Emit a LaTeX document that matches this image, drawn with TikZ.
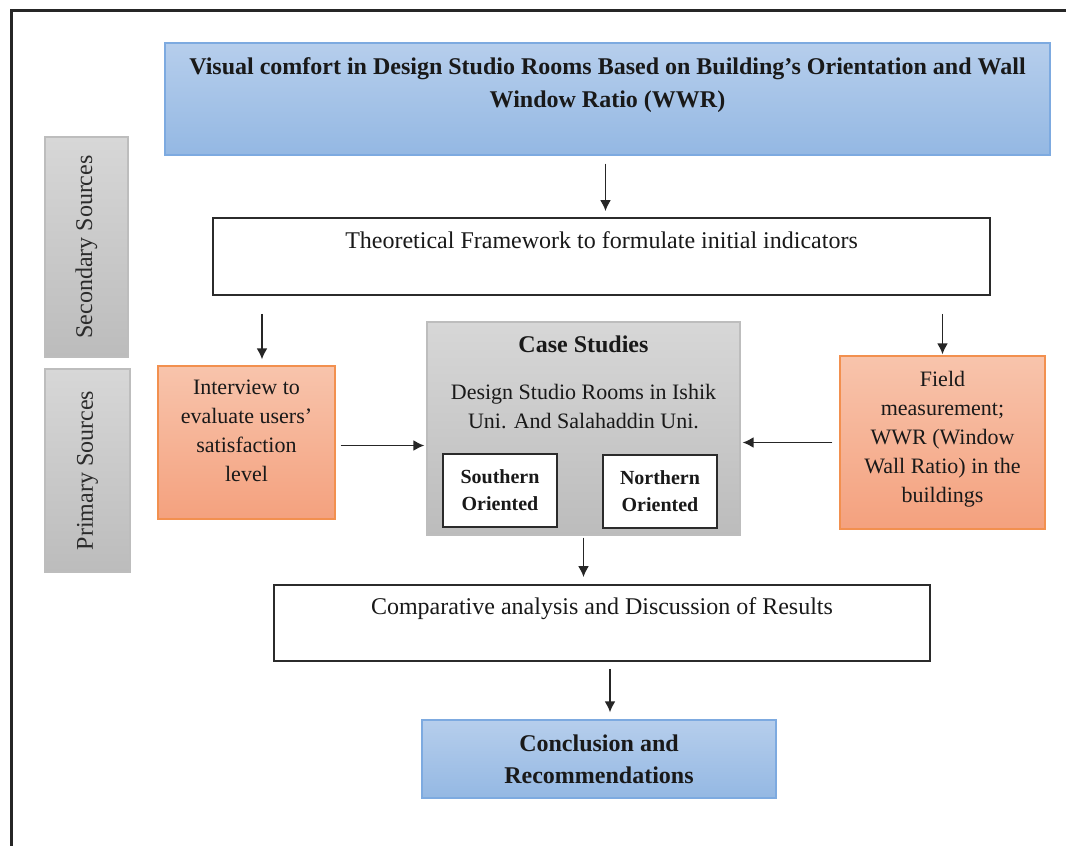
\documentclass[tikz,border=0pt]{standalone}
\usepackage{fontspec}
\setmainfont{Liberation Serif}
\usetikzlibrary{calc}
\usetikzlibrary{arrows.meta}

\definecolor{bluetop}{HTML}{B6CEEC}
\definecolor{bluebot}{HTML}{94B8E3}
\definecolor{blueedge}{HTML}{7DAAE0}
\definecolor{orangetop}{HTML}{F8C4AC}
\definecolor{orangebot}{HTML}{F4A17E}
\definecolor{orangeedge}{HTML}{F2904F}
\definecolor{graytop}{HTML}{D7D7D7}
\definecolor{graybot}{HTML}{BCBCBC}
\definecolor{grayedge}{HTML}{BDBDBD}
\definecolor{inkgray}{HTML}{2B2B2B}

\tikzset{
  >={Latex[length=11pt,width=11pt]},
  arr/.style={->, line width=1.8pt, black!85},
  bluebox/.style={draw=blueedge, line width=1.3pt, top color=bluetop, bottom color=bluebot},
  orangebox/.style={draw=orangeedge, line width=1.3pt, top color=orangetop, bottom color=orangebot},
  graybox/.style={draw=grayedge, line width=1.3pt, top color=graytop, bottom color=graybot},
  whitebox/.style={draw=inkgray, line width=1.8pt, fill=white},
  txt/.style={align=center, inner sep=0pt, text=black!90, font=\fontsize{22}{29}\selectfont},
  widetxt/.style={txt, font=\fontsize{24}{29}\selectfont},
  boldtxt/.style={align=center, inner sep=0pt, text=black!90, font=\fontsize{24}{33}\selectfont\bfseries},
}

\begin{document}
\begin{tikzpicture}[x=1pt, y=-1pt]
\useasboundingbox (0,0) rectangle (1066,846);
\fill[white] (0,0) rectangle (1066,846);
% frame
\draw[line width=3pt, black!85] (11,846) -- (11,10) -- (1066,10);

% side bars
\node[graybox, minimum width=83pt, minimum height=220pt] (secondary) at (86.5,247) {};
\node[txt, text=inkgray, rotate=90, font=\fontsize{24}{29}\selectfont] at (secondary.center) {Secondary Sources};
\node[graybox, minimum width=85pt, minimum height=203pt] (primary) at (87.5,470.5) {};
\node[txt, text=inkgray, rotate=90, font=\fontsize{24}{29}\selectfont] at (primary.center) {Primary Sources};

% main boxes
\node[bluebox, minimum width=885pt, minimum height=112pt,
  label={[boldtxt, anchor=north, yshift=-15pt]north:Visual comfort in Design Studio Rooms Based on Building’s Orientation and Wall\\Window Ratio (WWR)}]
  (title) at (607.5,99) {};
\node[whitebox, minimum width=777pt, minimum height=77pt,
  label={[widetxt, anchor=north, yshift=-14pt]north:Theoretical Framework to formulate initial indicators}]
  (theory) at (601.5,256.5) {};
\node[orangebox, minimum width=177pt, minimum height=153pt,
  label={[txt, anchor=north, yshift=-14pt]north:Interview to\\evaluate users’\\satisfaction\\level}]
  (interview) at (246.5,442.5) {};
\node[orangebox, minimum width=205pt, minimum height=173pt,
  label={[txt, anchor=north, yshift=-16pt]north:Field\\measurement;\\WWR (Window\\Wall Ratio) in the\\buildings}]
  (field) at (942.5,442.5) {};
\node[graybox, minimum width=313pt, minimum height=213pt,
  label={[txt, anchor=north, yshift=-14pt]north:{\fontsize{24}{29}\selectfont\bfseries Case Studies}\\[18pt]Design Studio Rooms in Ishik\\Uni. And Salahaddin Uni.}]
  (case) at (583.5,428.5) {};
\node[whitebox, boldtxt, font=\fontsize{20}{27}\selectfont\bfseries, minimum width=114pt, minimum height=73pt] (south) at (500,490.5) {Southern\\Oriented};
\node[whitebox, boldtxt, font=\fontsize{20}{27}\selectfont\bfseries, minimum width=114pt, minimum height=73pt] (north) at (660,491.5) {Northern\\Oriented};
\node[whitebox, minimum width=656pt, minimum height=76pt,
  label={[widetxt, anchor=north, yshift=-13pt]north:Comparative analysis and Discussion of Results}]
  (compare) at (602,623) {};
\node[bluebox, boldtxt, font=\fontsize{24}{32}\selectfont\bfseries, minimum width=354pt, minimum height=78pt] (conclusion) at (599,759) {Conclusion and\\Recommendations};

% connectors
\draw[arr, shorten <=8pt, shorten >=6pt] ([xshift=-2pt]title.south) -- ([xshift=-2pt]title.south |- theory.north);
\draw[arr, shorten <=18pt, shorten >=6pt] ([xshift=15.5pt]interview.north |- theory.south) -- ([xshift=15.5pt]interview.north);
\draw[arr, shorten <=18pt, shorten >=1pt] (field.north |- theory.south) -- (field.north);
\draw[arr, shorten <=5pt, shorten >=2pt] ([yshift=-3pt]interview.east) -- ([yshift=-3pt]interview.east -| case.west);
\draw[arr, shorten <=7pt, shorten >=2pt] (field.west) -- (field.west -| case.east);
\draw[arr, shorten <=2pt, shorten >=7pt] (case.south) -- (case.south |- compare.north);
\draw[arr, shorten <=7pt, shorten >=7pt] ([xshift=8pt]compare.south) -- ([xshift=8pt]compare.south |- conclusion.north);
\end{tikzpicture}
\end{document}
